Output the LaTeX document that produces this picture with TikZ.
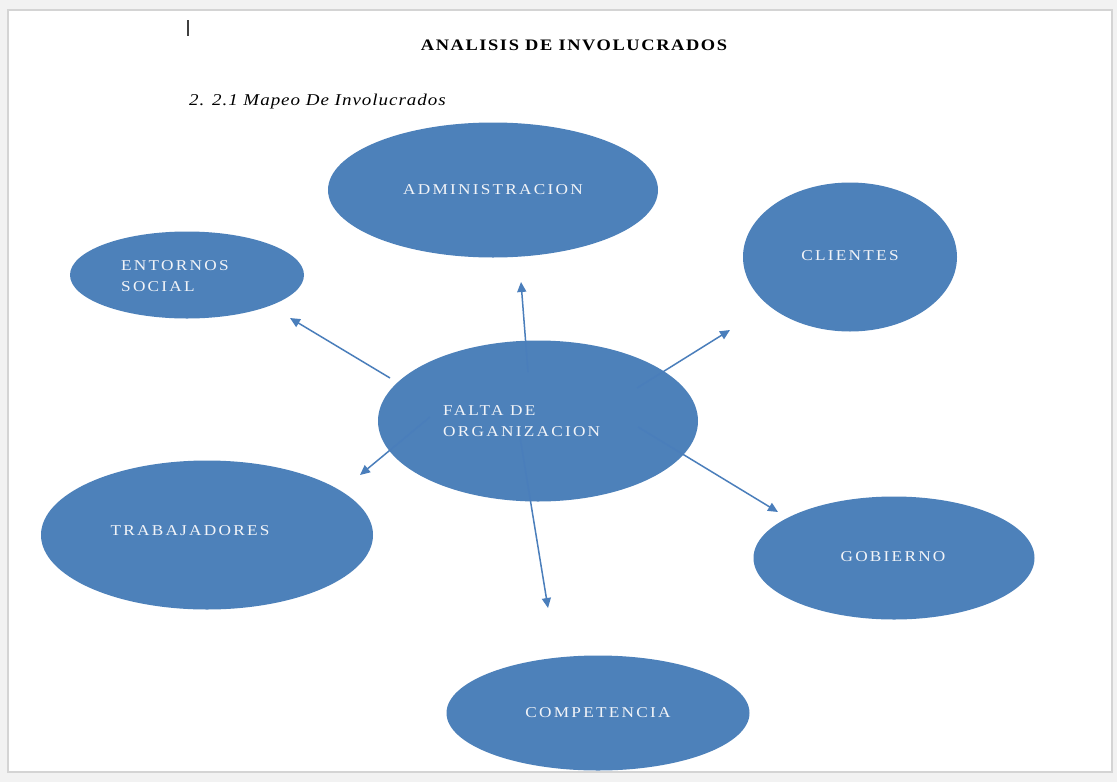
\documentclass[tikz,border=0pt]{standalone}
\usepackage{fontspec}
\setmainfont{Liberation Serif}
\newfontfamily\spaced[FakeStretch=1.15,LetterSpace=15]{Liberation Serif}
\newfontfamily\headfont[FakeStretch=1.15,LetterSpace=10]{Liberation Serif}
\newfontfamily\subfont[FakeStretch=1.15,LetterSpace=6]{Liberation Serif}
\usetikzlibrary{shapes.geometric,arrows.meta}
\definecolor{blob}{HTML}{4D81BA}
\definecolor{linkc}{HTML}{4A7EBB}
\definecolor{pagebg}{HTML}{F2F2F2}
\definecolor{pageedge}{HTML}{D4D4D4}
\definecolor{labelc}{HTML}{F2F4F8}
\tikzset{
  actor/.style={ellipse, fill=blob, draw=none, inner sep=0pt},
  lbl/.style={text=labelc, font=\spaced\fontsize{15}{21}\selectfont, align=left, inner sep=0pt},
  link/.style={draw=linkc, line width=1.5pt, -{Triangle[length=10pt,width=9pt]}}
}
\begin{document}
\begin{tikzpicture}[x=1pt,y=-1pt]
% page and surrounding frame
\fill[pagebg] (0,0) rectangle (1117,782);
\filldraw[fill=white, draw=pageedge, line width=1.5pt] (8,10) rectangle (1112,772);
\useasboundingbox (0,0) rectangle (1117,782);
% text cursor
\fill[black!75] (187.2,20) rectangle (189.2,36);

% headings
\node[font=\headfont\bfseries\fontsize{16}{18}\selectfont, inner sep=0pt] (title) at (574,45) {ANALISIS DE INVOLUCRADOS};
\node[font=\subfont\itshape\fontsize{16.5}{18}\selectfont, anchor=west, inner sep=0pt] (sub) at (189,102) {2. 2.1 Mapeo De Involucrados};

% stakeholder ellipses
\node[actor, minimum width=330pt, minimum height=135pt] (admin) at (493,190) {};
\node[actor, minimum width=214pt, minimum height=149pt] (cli) at (850,257) {};
\node[actor, minimum width=234pt, minimum height=87pt] (ent) at (187,275) {};
\node[actor, minimum width=332pt, minimum height=149pt] (trab) at (207,535) {};
\node[actor, minimum width=281pt, minimum height=123pt] (gob) at (894,558) {};
\node[actor, minimum width=303pt, minimum height=115pt] (comp) at (598,713) {};
\node[actor, minimum width=320pt, minimum height=161pt] (falta) at (538,421) {};

% arrow start and end points
\coordinate (sEnt) at (390,378);   \coordinate (eEnt) at (290,318);
\coordinate (sAdm) at (528,372);   \coordinate (eAdm) at (521,282);
\coordinate (sCli) at (637,388);   \coordinate (eCli) at (730,330);
\coordinate (sTra) at (430,417);   \coordinate (eTra) at (360,475);
\coordinate (sGob) at (638,427);   \coordinate (eGob) at (778,512);
\coordinate (sCom) at (520,437);   \coordinate (eCom) at (548,608);

\draw[link] (sEnt) -- (eEnt);
\draw[link] (sAdm) -- (eAdm);
\draw[link] (sCli) -- (eCli);
\draw[link] (sTra) -- (eTra);
\draw[link] (sGob) -- (eGob);
\draw[link] (sCom) -- (eCom);

% labels
\node[lbl] (tAdm) at (493,190) {ADMINISTRACION};
\node[lbl] (tCli) at (850,256) {CLIENTES};
\node[lbl, anchor=west] (tEnt) at (121,276) {ENTORNOS\\SOCIAL};
\node[lbl, anchor=west] (tFal) at (443,421) {FALTA DE\\ORGANIZACION};
\node[lbl] (tTra) at (190,531) {TRABAJADORES};
\node[lbl] (tGob) at (893,557) {GOBIERNO};
\node[lbl] (tCom) at (598,713) {COMPETENCIA};
\end{tikzpicture}
\end{document}
